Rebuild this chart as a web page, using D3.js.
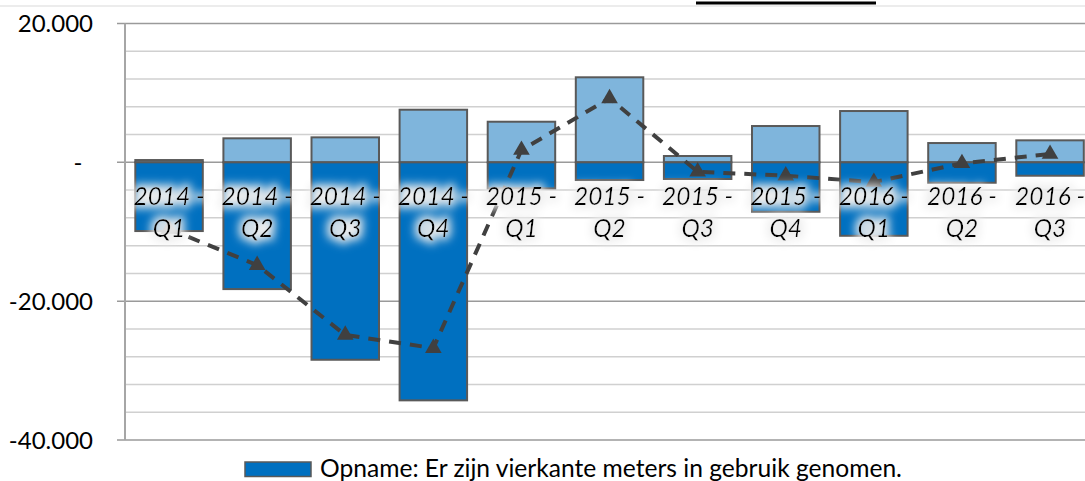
<!DOCTYPE html>
<html>
<head>
<meta charset="utf-8">
<script src="https://cdn.jsdelivr.net/npm/d3@7"></script>
<style>
  body { margin: 0; background: #fff; }
  svg { display: block; font-family: Lato, "Open Sans", sans-serif; }
</style>
</head>
<body>
<div id="chart"></div>
<script>
// quarters on the x axis
var quarters = ["2014 - Q1", "2014 - Q2", "2014 - Q3", "2014 - Q4", "2015 - Q1", "2015 - Q2",
                "2015 - Q3", "2015 - Q4", "2016 - Q1", "2016 - Q2", "2016 - Q3"];
// light blue part (above zero)
var positiveValues = [330, 3460, 3600, 7580, 5850, 12250, 910, 5230, 7390, 2780, 3170];
// dark blue part, "Opname" (below zero)
var opnameValues = [-9900, -18260, -28440, -34290, -3750, -2550, -2400, -7120, -10580, -2940, -1930];
// dashed line with triangles (net)
var netValues = [-9600, -14800, -24870, -26760, 1770, 9220, -1350, -1930, -2840, -140, 1200];
// y axis ticks
var majorTicks = [20000, 0, -20000, -40000];
var tickLabels = ["20.000", "-", "-20.000", "-40.000"];
var legendLabel = "Opname: Er zijn vierkante meters in gebruik genomen.";

var width = 1085, height = 481;
var darkBlue = "#0070c0", lightBlue = "#7fb5dc", border = "#595959";

var svg = d3.select("#chart").append("svg")
    .attr("width", width)
    .attr("height", height);

// soft glow behind the category labels
var defs = svg.append("defs");
var glow = defs.append("filter").attr("id", "glow")
    .attr("x", "-30%").attr("y", "-60%").attr("width", "160%").attr("height", "220%");
glow.append("feMorphology").attr("in", "SourceAlpha").attr("operator", "dilate").attr("radius", 3).attr("result", "fat");
glow.append("feGaussianBlur").attr("in", "fat").attr("stdDeviation", 5).attr("result", "blur");
glow.append("feFlood").attr("flood-color", "#ededed");
glow.append("feComposite").attr("in2", "blur").attr("operator", "in").attr("result", "halo");
var merge = glow.append("feMerge");
merge.append("feMergeNode").attr("in", "halo");
merge.append("feMergeNode").attr("in", "SourceGraphic");

// top border of the (cropped) chart and title underline
svg.append("line")
    .attr("x1", 0).attr("x2", width).attr("y1", 6).attr("y2", 6)
    .attr("stroke", "#e6e6e6").attr("stroke-width", 1.5);
svg.append("rect")
    .attr("x", 696).attr("y", 1.5).attr("width", 180).attr("height", 3)
    .attr("fill", "#000");

var plotLeft = 125;
var step = 88.1;

var x = d3.scaleBand()
    .domain(quarters)
    .range([plotLeft, plotLeft + step * quarters.length])
    .paddingInner(0.234)
    .paddingOuter(0.117);

var y = d3.scaleLinear()
    .domain([-40000, 20000])
    .range([440, 23.5]);

// gridlines: minor every 4.000, major every 20.000
var minorTicks = d3.range(-40000, 20001, 4000).filter(function (v) { return v % 20000 !== 0; });

svg.append("g")
    .selectAll("line")
    .data(minorTicks)
    .enter()
    .append("line")
    .attr("x1", plotLeft).attr("x2", width)
    .attr("y1", function (d) { return y(d); })
    .attr("y2", function (d) { return y(d); })
    .attr("stroke", "#d0d0d0")
    .attr("stroke-width", 1.5);

svg.append("g")
    .selectAll("line")
    .data(majorTicks)
    .enter()
    .append("line")
    .attr("x1", plotLeft - 8).attr("x2", width)
    .attr("y1", function (d) { return y(d); })
    .attr("y2", function (d) { return y(d); })
    .attr("stroke", "#9a9a9a")
    .attr("stroke-width", 1.5);

// y axis line
svg.append("line")
    .attr("x1", plotLeft).attr("x2", plotLeft)
    .attr("y1", y(20000)).attr("y2", y(-40000))
    .attr("stroke", "#a6a6a6")
    .attr("stroke-width", 2);

// y tick labels
svg.append("g")
    .selectAll("text")
    .data(majorTicks)
    .enter()
    .append("text")
    .attr("x", function (d, i) { return d === 0 ? 78 : 93; })
    .attr("y", function (d) { return y(d); })
    .attr("dy", "0.36em")
    .attr("text-anchor", function (d) { return d === 0 ? "middle" : "end"; })
    .style("font-size", "24px")
    .style("fill", "#000")
    .text(function (d, i) { return tickLabels[i]; });

// bars
svg.append("g")
    .selectAll("rect")
    .data(quarters)
    .enter()
    .append("rect")
    .attr("x", function (d) { return x(d); })
    .attr("y", function (d, i) { return y(positiveValues[i]); })
    .attr("width", x.bandwidth())
    .attr("height", function (d, i) { return y(0) - y(positiveValues[i]); })
    .attr("fill", lightBlue)
    .attr("stroke", border)
    .attr("stroke-width", 2);

svg.append("g")
    .selectAll("rect")
    .data(quarters)
    .enter()
    .append("rect")
    .attr("x", function (d) { return x(d); })
    .attr("y", y(0))
    .attr("width", x.bandwidth())
    .attr("height", function (d, i) { return y(opnameValues[i]) - y(0); })
    .attr("fill", darkBlue)
    .attr("stroke", border)
    .attr("stroke-width", 2);

// net line
var cx = function (i) { return x(quarters[i]) + x.bandwidth() / 2; };
var line = d3.line()
    .x(function (d, i) { return cx(i); })
    .y(function (d) { return y(d); });

svg.append("path")
    .datum(netValues)
    .attr("d", line)
    .attr("fill", "none")
    .attr("stroke", "#404040")
    .attr("stroke-width", 4)
    .attr("stroke-dasharray", "12,9");

svg.append("g")
    .selectAll("path")
    .data(netValues)
    .enter()
    .append("path")
    .attr("d", d3.symbol().type(d3.symbolTriangle).size(120))
    .attr("transform", function (d, i) { return "translate(" + cx(i) + "," + y(d) + ")"; })
    .attr("fill", "#404040");

// category labels, two lines, inside the plot
var labels = svg.append("g")
    .selectAll("text")
    .data(quarters)
    .enter()
    .append("text")
    .attr("text-anchor", "middle")
    .attr("filter", "url(#glow)")
    .style("font-size", "24.5px")
    .style("font-style", "italic")
    .style("fill", "#000");

labels.append("tspan")
    .attr("x", function (d, i) { return cx(i); })
    .attr("y", 205)
    .text(function (d) { return d.split(" - ")[0] + " -"; });

labels.append("tspan")
    .attr("x", function (d, i) { return cx(i); })
    .attr("y", 237)
    .text(function (d) { return d.split(" - ")[1]; });

// legend
svg.append("rect")
    .attr("x", 245).attr("y", 462)
    .attr("width", 66).attr("height", 14.5)
    .attr("fill", darkBlue)
    .attr("stroke", border)
    .attr("stroke-width", 1.5);

var legendText = svg.append("text")
    .attr("x", 320)
    .attr("y", 477)
    .style("font-size", "21px")
    .style("fill", "#000")
    .text(legendLabel);

// fit legend text to the width seen in the original
var len = legendText.node().getComputedTextLength();
legendText.style("font-size", (21 * 582 / len).toFixed(2) + "px");
</script>
</body>
</html>
